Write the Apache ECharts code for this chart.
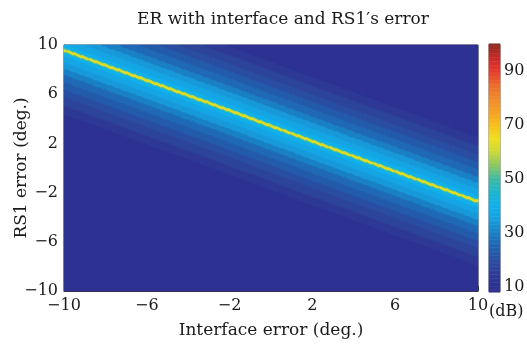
<!DOCTYPE html>
<html>
<head>
<meta charset="utf-8">
<script src="https://cdn.jsdelivr.net/npm/echarts@6/dist/echarts.min.js"></script>
<style>
  html, body { margin: 0; padding: 0; background: #fff; }
  #chart { width: 527px; height: 349px; }
</style>
</head>
<body>
<div id="chart"></div>
<script>
// ridge of the error map (deg)
const lineX = [-10, -6, -2, 2, 6, 10];
const lineY = [9.6, 7.15, 4.7, 2.2, -0.25, -2.7];

// ER (dB) by vertical distance from the ridge (deg), banded like the contour fill
const offsetEdges = [0.12, 0.22, 0.5, 1.0, 1.5, 2.0, 2.6, 3.2, 3.8, 4.5, 5.2, 99];
const offsetDb = [63, 48, 40, 37, 34, 30, 26, 23, 20, 17, 14, 11];

// colour scale (dB) and its colours, jet-like
const scaleDb = [10, 15, 20, 25, 30, 35, 40, 45, 50, 55, 60, 65, 70, 75, 80, 85, 90, 95, 100];
const scaleColors = [
  "#2e3192", "#2f3d97", "#2a4fa2", "#2164b2", "#1b80c6", "#179fdf", "#10b0ec",
  "#1cb5cf", "#3fbaa2", "#8cc763", "#c9da38", "#f0df1f", "#f8be1b", "#f5a023",
  "#f08a2a", "#eb6a2c", "#e53a2d", "#c82b28", "#8e2a24",
];

const axisTicks = [-10, -6, -2, 2, 6, 10];
const cbTicks = [10, 30, 50, 70, 90];
const cbMinor = [10, 20, 30, 40, 50, 60, 70, 80, 90];

const FONT = "DejaVu Serif";
// cell counts chosen so every cell is a whole number of pixels
const NX = 207, NY = 246;

const ridgeAt = (x) => {
  let k = 0;
  while (k < lineX.length - 2 && x > lineX[k + 1]) k++;
  const t = (x - lineX[k]) / (lineX[k + 1] - lineX[k]);
  return lineY[k] + t * (lineY[k + 1] - lineY[k]);
};
const dbAt = (d) => {
  let k = 0;
  while (d > offsetEdges[k]) k++;
  return offsetDb[k];
};

const xCats = [], yCats = [];
for (let i = 0; i < NX; i++) xCats.push(String(i));
for (let j = 0; j < NY; j++) yCats.push(String(j));

const cells = [];
for (let i = 0; i < NX; i++) {
  const x = -10 + (20 * (i + 0.5)) / NX;
  const ry = ridgeAt(x);
  for (let j = 0; j < NY; j++) {
    const y = -10 + (20 * (j + 0.5)) / NY;
    cells.push([i, j, dbAt(Math.abs(y - ry))]);
  }
}

// colour bar cells
const cbMin = 8, cbMax = 100;
const cbCats = [], cbCells = [];
for (let v = cbMin, j = 0; v < cbMax; v += 0.5, j++) {
  cbCats.push(String(v));
  cbCells.push([0, j, v + 0.25]);
}

const minus = (v) => (v < 0 ? "\u2212" + Math.abs(v) : String(v));
const txt = { fontFamily: FONT, fontSize: 16, color: "#1a1a1a" };
const nameTxt = { fontFamily: FONT, fontSize: 17, color: "#1a1a1a" };

const option = {
  animation: false,
  title: {
    text: "ER with interface and RS1\u2032s error",
    left: 278, top: 6, textAlign: "center",
    textStyle: { fontFamily: FONT, fontSize: 17, fontWeight: "normal", color: "#1a1a1a" },
  },
  grid: [
    { left: 64, top: 45, width: 414, height: 246, outerBoundsMode: "none", containLabel: false,
      show: true, borderColor: "#444", borderWidth: 1, backgroundColor: "transparent" },
    { left: 489, top: 44, width: 11, height: 248, outerBoundsMode: "none", containLabel: false,
      show: true, borderColor: "#666", borderWidth: 1 },
  ],
  visualMap: {
    type: "continuous", show: false, min: 10, max: 100,
    seriesIndex: [0, 1], dimension: 2,
    inRange: { color: scaleColors },
  },
  xAxis: [
    { type: "category", gridIndex: 0, data: xCats, position: "top", show: false },
    {
      type: "value", gridIndex: 0, min: -10, max: 10, interval: 2, position: "bottom",
      axisLine: { show: true, lineStyle: { color: "#333" } },
      axisTick: { inside: true, length: 5, lineStyle: { color: "#333" } },
      axisLabel: { ...txt, margin: 7, formatter: (v) => (axisTicks.includes(v) ? minus(v) : "") },
      splitLine: { show: false },
      name: "Interface error (deg.)", nameLocation: "middle", nameGap: 31,
      nameMoveOverlap: false,
      nameTextStyle: nameTxt,
    },
    { type: "category", gridIndex: 1, data: ["c"], show: false },
  ],
  yAxis: [
    { type: "category", gridIndex: 0, data: yCats, position: "right", show: false },
    {
      type: "value", gridIndex: 0, min: -10, max: 10, interval: 2, position: "left",
      axisLine: { show: true, lineStyle: { color: "#333" } },
      axisTick: { inside: true, length: 5, lineStyle: { color: "#333" } },
      axisLabel: { ...txt, margin: 6, formatter: (v) => (axisTicks.includes(v) ? minus(v) : "") },
      splitLine: { show: false },
      name: "RS1 error (deg.)", nameLocation: "middle", nameGap: 34,
      nameMoveOverlap: false,
      nameTextStyle: nameTxt,
    },
    { type: "category", gridIndex: 1, data: cbCats, position: "left", show: false },
    {
      type: "value", gridIndex: 1, min: cbMin, max: cbMax, position: "right",
      axisLine: { show: false },
      axisTick: { inside: true, length: 3, customValues: cbMinor, lineStyle: { color: "#444" } },
      axisLabel: { ...txt, margin: 4, customValues: cbTicks },
      splitLine: { show: false },
    },
  ],
  series: [
    {
      type: "heatmap", xAxisIndex: 0, yAxisIndex: 0, data: cells,
      progressive: 0, emphasis: { disabled: true },
    },
    {
      type: "heatmap", xAxisIndex: 2, yAxisIndex: 2, data: cbCells,
      progressive: 0, emphasis: { disabled: true },
    },
  ],
  graphic: [
    { type: "text", left: 489, top: 304, style: { text: "(dB)", font: "16px " + FONT, fill: "#1a1a1a" } },
  ],
};

const myChart = echarts.init(document.getElementById("chart"), null, { renderer: "canvas" });
myChart.setOption(option);
</script>
</body>
</html>
